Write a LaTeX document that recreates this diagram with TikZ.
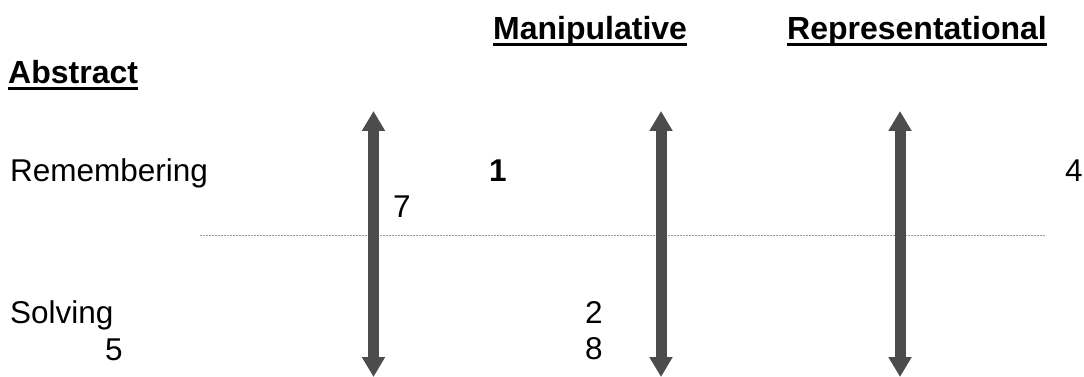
\documentclass[tikz,border=0pt]{standalone}
\usepackage{fontspec}
\setmainfont{Liberation Sans}
\usetikzlibrary{arrows.meta}
\begin{document}
\begin{tikzpicture}[x=1pt,y=-1pt,
  lbl/.style={anchor=base west,inner sep=0pt,font=\fontsize{31.5}{36}\selectfont},
  head/.style={anchor=base west,inner sep=0pt,font=\fontsize{32}{36}\selectfont\bfseries},
  uline/.style={line width=3pt,black},
  axis/.style={line width=11pt,draw=black!70,
    {Triangle[width=22pt,length=20pt]}-{Triangle[width=22pt,length=20pt]}},
  rule/.style={draw=black!40,line width=1pt,dash pattern=on 2pt off 1pt}]
\useasboundingbox (0,0) rectangle (1084,377);

% column headings
\node[head] (man) at (493,40) {Manipulative};
\node[head] (rep) at (787,40) {Representational};
\node[head] (abs) at (8,84) {Abstract};
\foreach \n in {man,rep,abs}
  \draw[uline] ([yshift=-4.5pt]\n.base west) -- ([yshift=-4.5pt]\n.base east);

% row labels and entries
\node[lbl] (rem) at (10,181) {Remembering};
\node[lbl] (solv) at (10,323) {Solving};
\node[lbl,font=\fontsize{31.5}{36}\selectfont\bfseries] (one) at (489,181) {1};
\node[lbl] (four) at (1065,181) {4};
\node[lbl] (seven) at (393,217) {7};
\node[lbl] (two) at (585,323) {2};
\node[lbl] (eight) at (585,359) {8};
\node[lbl] (five) at (105,360) {5};

% dotted separator between the rows
\coordinate (rl) at (200,235);
\coordinate (rr) at (1045,235);
\draw[rule] (rl) -- (rr);

% double-headed vertical axes
\foreach \i/\x in {a/373.5,b/661,c/900} {
  \coordinate (\i top) at (\x,111);
  \coordinate (\i bot) at (\x,377);
  \draw[axis] (\i top) -- (\i bot);
}
\end{tikzpicture}
\end{document}
